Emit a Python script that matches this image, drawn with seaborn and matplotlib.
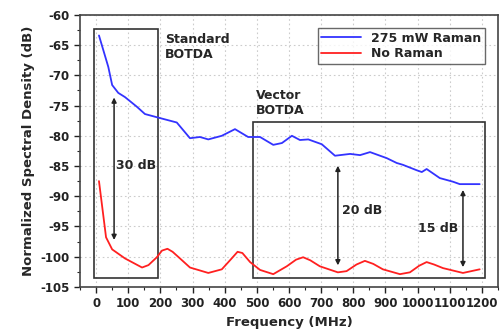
import numpy as np
import pandas as pd
import matplotlib
matplotlib.use("Agg")
import matplotlib.pyplot as plt
from matplotlib.patches import Rectangle
from matplotlib.ticker import MultipleLocator
import seaborn as sns

# Data
raman_freq = [9, 38, 50, 69, 90, 127, 152, 194, 251, 292, 323, 349, 391, 432, 473,
              510, 551, 578, 609, 634, 660, 702, 743, 790, 821, 852, 904, 935, 954,
              997, 1013, 1028, 1069, 1110, 1131, 1193]
raman_db = [-63.4, -68.6, -71.6, -72.9, -73.6, -75.2, -76.4, -77.0, -77.8, -80.4, -80.2,
            -80.6, -80.0, -78.9, -80.2, -80.2, -81.5, -81.2, -80.0, -80.7, -80.6, -81.4,
            -83.3, -83.0, -83.2, -82.7, -83.7, -84.5, -84.8, -85.7, -86.0, -85.5, -87.0,
            -87.6, -88.0, -88.0]

noraman_freq = [9, 31, 50, 90, 143, 163, 189, 205, 222, 238, 261, 292, 349, 391, 420, 440,
                455, 479, 510, 551, 593, 622, 644, 666, 696, 752, 779, 810, 836, 862, 892,
                945, 976, 1005, 1028, 1051, 1079, 1141, 1193]
noraman_db = [-87.5, -96.8, -98.8, -100.3, -101.8, -101.4, -100.1, -99.0, -98.7, -99.2,
              -100.3, -101.8, -102.7, -102.1, -100.4, -99.2, -99.4, -100.9, -102.2, -102.9,
              -101.6, -100.5, -100.1, -100.6, -101.6, -102.6, -102.4, -101.3, -100.7,
              -101.2, -102.1, -102.9, -102.6, -101.5, -100.9, -101.3, -101.9, -102.7,
              -102.1]

series_names = ["275 mW Raman", "No Raman"]
series_colors = ["#3333ff", "#ff2020"]

x_ticks = list(range(0, 1201, 100))
y_ticks = list(range(-105, -59, 5))

df = pd.concat([
    pd.DataFrame({"Frequency": raman_freq, "PSD": raman_db, "Series": series_names[0]}),
    pd.DataFrame({"Frequency": noraman_freq, "PSD": noraman_db, "Series": series_names[1]}),
])

sns.set_style("white")
plt.rcParams["font.family"] = ["DejaVu Sans"]
plt.rcParams["font.weight"] = "bold"
plt.rcParams["axes.unicode_minus"] = False

fig = plt.figure(figsize=(5.0, 3.32), dpi=100)
ax = fig.add_axes([0.16, 0.136, 0.836, 0.819])

sns.lineplot(data=df, x="Frequency", y="PSD", hue="Series", palette=series_colors,
             hue_order=series_names, linewidth=1.3, ax=ax, sort=False)

ax.set_xlim(-50, 1250)
ax.set_ylim(-105, -60)
ax.set_xticks(x_ticks)
ax.set_yticks(y_ticks)
ax.xaxis.set_minor_locator(MultipleLocator(50))
ax.yaxis.set_minor_locator(MultipleLocator(2.5))
ax.tick_params(which="major", direction="out", length=4, width=1.0, labelsize=8.5,
               colors="#222222", bottom=True, left=True)
ax.tick_params(which="minor", direction="out", length=2, width=0.8,
               bottom=True, left=True)
for lab in ax.get_xticklabels() + ax.get_yticklabels():
    lab.set_fontweight("bold")
ax.grid(True, which="major", linestyle=(0, (1.5, 2.5)), color="#cccccc", linewidth=0.8)
for s in ax.spines.values():
    s.set_color("#444444")
    s.set_linewidth(1.2)

ax.set_xlabel("Frequency (MHz)", fontsize=9.5, fontweight="bold", labelpad=4)
ax.set_ylabel("Normalized Spectral Density (dB)", fontsize=9.5, fontweight="bold", labelpad=4)

# Boxes
ax.add_patch(Rectangle((-6, -103.5), 200, 41.2, fill=False, edgecolor="#333333", linewidth=1.2))
ax.add_patch(Rectangle((489, -103.5), 720, 25.8, fill=False, edgecolor="#333333", linewidth=1.2))

ax.text(214, -63.0, "Standard\nBOTDA", fontsize=9, fontweight="bold", va="top", ha="left",
        linespacing=1.15)
ax.text(497, -72.3, "Vector\nBOTDA", fontsize=9, fontweight="bold", va="top", ha="left",
        linespacing=1.15)

# Arrows
arrow_kw = dict(arrowstyle="<|-|>", color="#222222", lw=1.1, mutation_scale=7)
ax.annotate("", xy=(56, -73.2), xytext=(56, -97.7), arrowprops=arrow_kw)
ax.annotate("", xy=(752, -84.5), xytext=(752, -101.9), arrowprops=arrow_kw)
ax.annotate("", xy=(1141, -88.5), xytext=(1141, -102.2), arrowprops=arrow_kw)
ax.text(124, -85.0, "30 dB", fontsize=9, fontweight="bold", ha="center", va="center")
ax.text(827, -92.4, "20 dB", fontsize=9, fontweight="bold", ha="center", va="center")
ax.text(1063, -95.3, "15 dB", fontsize=9, fontweight="bold", ha="center", va="center")

leg = ax.legend(loc="upper right", fontsize=9, frameon=True, fancybox=False,
                borderpad=0.3, handlelength=3.2, labelspacing=0.2,
                bbox_to_anchor=(0.985, 0.975))
leg.get_frame().set_edgecolor("#444444")
leg.get_frame().set_linewidth(1.0)
for t in leg.get_texts():
    t.set_fontweight("bold")
leg.set_title(None)

fig.savefig("out.png", dpi=100)
